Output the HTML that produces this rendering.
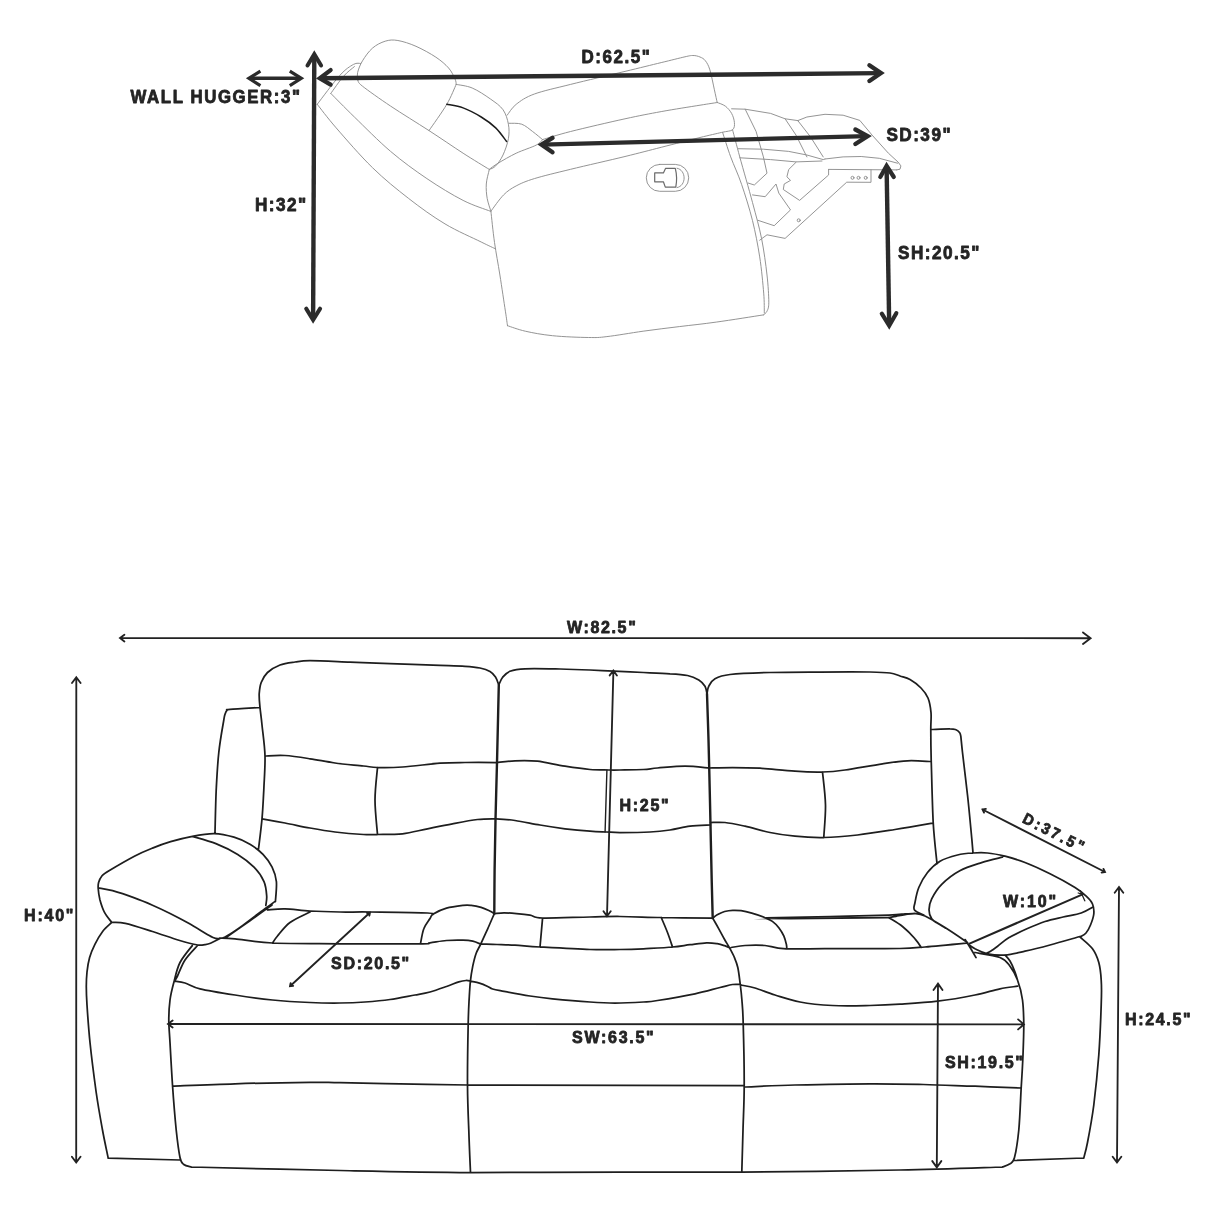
<!DOCTYPE html>
<html><head><meta charset="utf-8"><title>Sofa dimensions</title>
<style>
html,body{margin:0;padding:0;background:#fff}
body{width:1214px;height:1214px;overflow:hidden}
svg{display:block}
text{font-family:"Liberation Sans",sans-serif;font-weight:bold;fill:#242424;stroke:#242424;stroke-width:0.8px;stroke-linejoin:round}
svg{will-change:transform}
</style></head><body>
<svg width="1214" height="1214" viewBox="0 0 1214 1214">
<rect width="1214" height="1214" fill="#fff"/>
<g fill="none" stroke="#8e8e8e" stroke-width="0.95" stroke-linecap="round" stroke-linejoin="round">
<path d="M358.0 80.7C357.9 79.3 356.9 75.9 357.6 72.6C358.4 69.3 360.0 64.9 362.5 60.8C365.0 56.7 368.7 51.4 372.5 48.1C376.3 44.8 381.0 42.5 385.2 41.2C389.4 39.9 392.8 39.6 397.9 40.5C403.0 41.4 409.7 43.5 416.0 46.3C422.3 49.1 430.5 53.6 435.9 57.2C441.3 60.8 445.4 64.4 448.6 68.0C451.8 71.6 453.7 76.2 455.0 78.9C456.3 81.6 456.0 83.5 456.2 84.4M456.2 84.4C454.6 87.7 451.3 96.6 446.8 104.3C442.3 112.0 432.0 126.2 429.0 130.6M358.0 80.7C358.8 81.6 357.1 82.0 362.5 86.2C367.9 90.4 379.5 98.7 390.6 106.1C401.7 113.5 416.9 122.8 429.0 130.6C441.1 138.4 453.0 146.7 463.1 153.2C473.2 159.7 485.0 166.8 489.4 169.5M317.2 104.3C321.0 99.5 333.8 81.9 339.9 75.3C345.9 68.7 350.0 66.4 353.5 64.4C357.0 62.4 359.5 63.6 360.7 63.5M330.8 93.4C332.9 90.6 339.6 80.8 343.5 76.3C347.4 71.8 352.6 68.2 354.4 66.6M317.2 104.3C320.4 108.2 327.0 117.3 336.2 127.9C345.4 138.5 360.4 155.9 372.5 167.7C384.6 179.5 396.6 189.1 408.7 198.5C420.8 207.9 432.9 216.7 445.0 223.9C457.1 231.2 472.8 237.8 481.2 242.0C489.6 246.2 493.3 247.8 495.7 248.9M330.8 93.4C334.7 97.3 344.4 107.3 354.4 117.0C364.4 126.7 378.5 141.1 390.6 151.4C402.7 161.7 414.8 170.4 426.9 178.6C439.0 186.8 452.5 195.0 463.1 200.4C473.7 205.8 485.8 209.4 490.3 211.2M456.2 84.4C458.9 85.0 466.5 85.6 472.2 88.0C477.9 90.4 485.2 95.3 490.3 98.9C495.4 102.5 500.0 105.5 503.0 109.7C506.0 113.9 507.5 119.4 508.4 124.2C509.3 129.0 509.3 133.6 508.4 138.7C507.5 143.8 505.1 150.5 503.0 155.0C500.9 159.5 498.0 163.5 495.7 165.9C493.4 168.3 490.4 168.9 489.4 169.5M507.2 115.2C508.7 113.4 511.7 107.8 516.2 104.3C520.7 100.8 525.3 97.3 534.4 94.0C543.5 90.7 555.5 88.2 570.6 84.4C585.7 80.6 609.9 75.0 625.0 71.4C640.1 67.8 651.2 65.0 661.2 62.6C671.2 60.2 679.7 58.0 685.0 56.8C690.3 55.6 690.5 55.5 693.0 55.5C695.5 55.5 697.9 56.1 700.0 57.0C702.1 57.9 703.8 58.6 705.4 60.8C707.0 62.9 708.4 65.1 709.9 69.9C711.4 74.7 713.2 84.4 714.4 89.8C715.6 95.2 716.7 100.4 717.2 102.5M509.0 123.3C511.1 123.5 517.8 122.8 521.7 124.2C525.6 125.6 529.1 128.9 532.6 131.5C536.1 134.1 540.9 138.2 542.5 139.6M542.5 139.6C547.2 138.2 556.9 135.0 570.6 131.5C584.4 128.0 609.9 122.1 625.0 118.8C640.1 115.5 648.7 113.9 661.2 111.6C673.7 109.3 690.7 106.7 700.0 105.2C709.3 103.7 714.3 103.0 717.2 102.5M489.1 169.5C490.6 168.4 493.6 165.9 498.1 163.2C502.6 160.5 509.9 156.2 516.2 153.2C522.6 150.2 531.8 147.4 536.2 145.1C540.6 142.8 541.5 140.5 542.5 139.6M717.2 102.5C718.6 103.1 722.9 104.3 725.3 106.1C727.7 107.9 730.1 110.7 731.6 113.4C733.1 116.1 734.2 119.7 734.4 122.4C734.6 125.1 734.7 128.0 732.6 129.7C730.5 131.4 727.1 131.1 721.7 132.4C716.3 133.7 710.1 135.0 700.0 137.5C689.9 140.0 673.7 144.1 661.2 147.3C648.7 150.5 640.1 152.8 625.0 156.5C609.9 160.2 585.7 165.6 570.6 169.3C555.5 173.0 543.5 175.8 534.4 178.6C525.3 181.4 521.3 183.2 516.2 185.9C511.1 188.6 507.8 190.7 503.6 194.9C499.4 199.1 493.0 208.5 490.9 211.2M489.1 170.4C488.6 172.7 486.6 179.3 486.3 184.0C486.0 188.7 486.4 194.0 487.2 198.5C488.0 203.0 490.3 209.1 490.9 211.2M490.9 211.2C491.5 216.4 493.0 231.8 494.5 242.4C496.0 253.0 498.1 263.5 499.9 275.0C501.7 286.5 504.1 302.8 505.4 311.2C506.7 319.6 507.1 323.3 507.5 325.7M507.5 325.7C510.5 326.6 517.8 329.5 525.3 331.2C532.8 332.9 541.9 334.6 552.5 335.7C563.1 336.8 579.6 337.4 588.7 337.5C597.8 337.6 597.8 337.7 606.9 336.6C616.0 335.6 631.0 332.9 643.1 331.2C655.2 329.5 667.1 328.1 679.3 326.6C691.5 325.1 702.2 324.1 716.2 322.1C730.2 320.2 755.5 316.1 763.4 314.9M732.6 130.0C733.8 134.5 736.5 144.9 739.8 157.0C743.1 169.1 748.9 188.9 752.5 202.5C756.1 216.1 759.2 226.6 761.6 238.7C764.0 250.8 765.8 264.4 767.0 275.0C768.2 285.6 768.8 296.2 768.8 302.2C768.8 308.2 767.9 309.1 767.0 311.2C766.1 313.3 764.0 314.3 763.4 314.9M722.6 132.4C724.0 136.5 727.5 148.2 730.7 156.9C733.9 165.6 738.0 173.8 741.6 184.4C745.2 195.0 749.5 208.5 752.5 220.6C755.5 232.7 757.8 244.8 759.7 256.9C761.6 269.0 762.9 283.8 763.7 293.1C764.5 302.5 764.2 309.7 764.3 313.0"/>
<path d="M731.6 108.8L745.2 109.2L770.6 113.4L785.1 118.8L797.8 120.6M797.8 120.6L806.9 117.0L825.0 114.3L843.1 115.2L859.8 120.4L872.1 135.1L888.4 153.2L898.0 162.0L900.9 165.9L900.0 169.2L896.7 169.9M825.0 159.0L843.1 156.9L861.2 156.5L879.3 158.3L897.5 163.2M828.6 169.4L896.7 169.9M871.0 169.9L871.0 182.3L846.7 182.2L785.1 238.4L767.0 234.8L759.7 240.2M745.2 109.2L756.1 131.5L763.4 156.9L767.0 173.2L754.3 185.0L748.0 183.0M785.1 118.8L796.0 135.1L806.9 156.9M797.8 120.6L810.5 136.9L823.2 156.9M738.0 148.7L763.4 149.2L788.7 151.4L806.9 155.0L823.2 159.6L825.0 159.0M739.8 157.8L770.6 159.6L796.0 161.9L822.0 161.0M796.0 162.3L788.7 169.5L786.9 176.8L790.5 180.4L784.2 184.0L783.3 189.5L799.6 200.4L828.6 175.0L828.6 169.4M752.5 194.9L765.2 196.7L776.0 184.0L778.8 193.1L790.5 209.9L774.2 225.7L757.9 220.3"/>
<circle cx="852.5" cy="177.8" r="1.5"/><circle cx="858.5" cy="177.8" r="1.5"/><circle cx="865.7" cy="177.8" r="1.5"/><circle cx="798.7" cy="220.3" r="1.5"/>
<rect x="646.3" y="164.4" width="42.4" height="26.9" rx="13.4" ry="13.4"/>
<path d="M654.7 172.9H663.4L665.5 168.4H675.3Q677.6 177.5 675.8 187.1H665.3L663.4 181.8H654.7Z" stroke="#6a6a6a" stroke-width="1.2"/>
<path d="M677 168.2C686.6 170 686.6 186 677 187.6"/>
</g>
<path d="M446.8 104.3C449.5 104.9 457.4 105.8 463.1 107.9C468.8 110.0 475.8 113.7 481.2 117.0C486.6 120.3 491.5 123.8 495.7 127.9C499.9 132.0 504.8 139.2 506.6 141.5" fill="none" stroke="#1c1c1c" stroke-width="1.5" stroke-linecap="round"/>
<g fill="none" stroke="#2b2b2b">
<path d="M314.3 55.2L313.1 319.0" stroke-width="4.40" stroke-linecap="butt"/><path d="M307.5 65.5L314.3 54.2L321.1 65.5" stroke-width="4.00" stroke-linecap="round" stroke-linejoin="miter" stroke-miterlimit="10"/><path d="M306.2 308.6L313.1 320.0L320.1 308.6" stroke-width="4.00" stroke-linecap="round" stroke-linejoin="miter" stroke-miterlimit="10"/><path d="M249.9 78.3L300.3 78.3" stroke-width="3.40" stroke-linecap="butt"/><path d="M260.4 71.2L248.9 78.3L260.4 85.6" stroke-width="3.20" stroke-linecap="butt" stroke-linejoin="miter" stroke-miterlimit="10"/><path d="M289.8 71.2L301.3 78.3L289.8 85.6" stroke-width="3.20" stroke-linecap="butt" stroke-linejoin="miter" stroke-miterlimit="10"/><path d="M320.8 78.3L880.0 73.1" stroke-width="4.45" stroke-linecap="butt"/><path d="M330.6 70.1L319.8 78.3L330.6 84.6" stroke-width="4.30" stroke-linecap="round" stroke-linejoin="miter" stroke-miterlimit="10"/><path d="M869.4 65.3L881.0 73.1L869.4 81.0" stroke-width="4.30" stroke-linecap="round" stroke-linejoin="miter" stroke-miterlimit="10"/><path d="M542.5 144.6L866.6 136.1" stroke-width="4.30" stroke-linecap="butt"/><path d="M552.5 137.8L541.5 144.6L552.5 152.3" stroke-width="4.40" stroke-linecap="round" stroke-linejoin="miter" stroke-miterlimit="10"/><path d="M855.4 129.5L867.6 136.1L855.4 144.0" stroke-width="4.40" stroke-linecap="round" stroke-linejoin="miter" stroke-miterlimit="10"/><path d="M886.6 166.9L889.2 324.7" stroke-width="4.40" stroke-linecap="butt"/><path d="M880.3 177.0L886.6 165.9L893.8 177.0" stroke-width="4.20" stroke-linecap="round" stroke-linejoin="miter" stroke-miterlimit="10"/><path d="M881.8 313.7L889.2 325.7L896.3 313.2" stroke-width="4.20" stroke-linecap="round" stroke-linejoin="miter" stroke-miterlimit="10"/>
</g>
<g fill="none" stroke="#1e1e1e" stroke-width="1.75" stroke-linecap="round" stroke-linejoin="round">
<path d="M258.4 850.0C259.0 844.8 261.1 828.8 262.0 818.8C262.9 808.8 263.2 800.5 263.8 790.0C264.2 779.5 265.3 766.8 265.0 756.0C264.7 745.2 262.8 733.1 262.0 725.0C261.2 716.9 260.5 712.7 260.0 707.5C259.5 702.3 259.0 697.9 259.2 693.8C259.5 689.6 259.9 686.0 261.2 682.5C262.6 679.0 264.4 675.4 267.5 672.5C270.6 669.6 275.4 666.8 280.0 665.0C284.6 663.2 290.0 662.7 295.0 662.0C300.0 661.3 300.8 660.7 310.0 660.7C319.2 660.7 336.7 661.6 350.0 662.1C363.3 662.6 375.0 663.1 390.0 663.6C405.0 664.1 427.5 665.0 440.0 665.4C452.5 665.8 458.3 665.9 465.0 666.3C471.7 666.7 475.8 667.1 480.0 668.0C484.2 668.9 487.4 670.0 490.0 671.5C492.6 673.0 494.0 674.8 495.5 677.0C497.0 679.2 498.2 683.7 498.8 685.0M265.0 756.0C268.3 755.9 277.5 755.0 285.0 755.5C292.5 756.0 301.7 757.5 310.0 758.8C318.3 760.0 326.1 761.8 335.0 763.0C343.9 764.2 356.4 765.2 363.5 766.0C370.6 766.8 371.0 767.3 377.5 767.5C384.0 767.7 392.1 767.7 402.5 767.0C412.9 766.3 429.6 764.0 440.0 763.2C450.4 762.5 455.5 762.6 465.0 762.5C474.5 762.4 491.7 762.5 497.0 762.5M262.0 818.8C265.8 819.5 277.0 821.5 285.0 823.0C293.0 824.5 301.7 826.5 310.0 828.0C318.3 829.5 326.1 830.9 335.0 832.0C343.9 833.1 356.4 834.1 363.5 834.5C370.6 834.9 371.0 834.6 377.5 834.5C384.0 834.4 394.2 834.7 402.5 833.8C410.8 832.8 419.2 830.4 427.5 828.8C435.8 827.1 444.2 825.3 452.5 823.8C460.8 822.2 470.3 820.3 477.5 819.5C484.7 818.7 492.5 818.9 495.5 818.8M377.5 767.5C377.1 772.9 375.0 788.8 375.0 800.0C375.0 811.2 377.1 828.8 377.5 834.5M498.8 685.0C499.4 683.8 500.6 679.8 502.5 677.5C504.4 675.2 506.2 672.7 510.0 671.2C513.8 669.8 516.7 669.1 525.0 668.8C533.3 668.4 549.2 668.8 560.0 669.0C570.8 669.2 581.0 669.6 590.0 670.0C599.0 670.4 604.9 670.8 613.8 671.2C622.7 671.6 634.1 672.1 643.5 672.5C652.9 672.9 662.7 673.2 670.0 673.8C677.3 674.2 682.7 674.5 687.5 675.5C692.3 676.5 695.8 678.2 698.8 680.0C701.7 681.8 703.6 684.0 705.0 686.2C706.4 688.5 706.7 692.5 707.0 693.8M497.0 762.5C500.0 762.2 508.2 761.0 515.0 760.8C521.8 760.5 529.2 760.3 537.5 761.2C545.8 762.2 556.2 764.9 565.0 766.2C573.8 767.6 582.7 768.9 590.0 769.5C597.3 770.1 603.8 769.9 608.8 770.0C613.8 770.1 614.2 770.1 620.0 770.0C625.8 769.9 637.2 769.8 643.5 769.5C649.8 769.2 650.6 768.5 657.5 768.0C664.4 767.5 676.4 766.2 685.0 766.2C693.6 766.2 705.2 767.7 709.2 768.0M495.5 818.8C498.8 819.0 507.6 819.5 515.0 820.5C522.4 821.5 531.7 823.6 540.0 825.0C548.3 826.4 556.7 827.7 565.0 828.8C573.3 829.8 583.1 830.7 590.0 831.2C596.9 831.8 601.2 831.8 606.2 832.0C611.2 832.2 612.7 832.5 620.0 832.5C627.3 832.5 641.7 832.4 650.0 832.0C658.3 831.6 663.3 831.0 670.0 830.0C676.7 829.0 683.2 827.1 690.0 826.2C696.8 825.4 707.1 825.2 710.5 825.0M707.0 693.8C707.3 692.5 707.4 688.8 708.8 686.2C710.1 683.8 711.5 680.7 715.0 678.8C718.5 676.8 720.8 675.5 730.0 674.5C739.2 673.5 755.0 672.9 770.0 672.5C785.0 672.1 803.3 672.1 820.0 672.0C836.7 671.9 858.3 671.8 870.0 672.0C881.7 672.2 885.0 672.3 890.0 673.0C895.0 673.7 896.7 674.9 900.0 676.0C903.3 677.1 906.5 677.5 910.0 679.5C913.5 681.5 918.0 684.9 921.0 688.0C924.0 691.1 926.3 693.9 928.0 698.0C929.7 702.1 930.5 707.2 931.0 712.5C931.5 717.8 930.7 722.1 930.8 730.0C930.8 737.9 930.8 744.6 931.2 760.0C931.7 775.4 932.3 805.2 933.2 822.5C934.2 839.8 936.4 856.9 937.0 863.8M709.2 768.0C713.1 767.9 724.0 767.5 732.5 767.5C741.0 767.5 749.6 767.6 760.0 768.2C770.4 768.9 784.6 770.6 795.0 771.2C805.4 771.9 814.2 772.2 822.5 772.0C830.8 771.8 835.0 771.4 845.0 770.0C855.0 768.6 872.1 765.3 882.5 763.8C892.9 762.2 899.4 761.1 907.5 760.8C915.6 760.4 927.3 761.4 931.2 761.5M710.5 822.5C712.9 822.5 719.2 821.9 725.0 822.5C730.8 823.1 737.5 824.6 745.0 826.2C752.5 827.9 761.7 830.8 770.0 832.5C778.3 834.2 786.0 835.4 795.0 836.2C804.0 837.1 813.3 837.7 823.8 837.5C834.2 837.3 845.6 836.3 857.5 835.0C869.4 833.7 882.4 831.5 895.0 829.5C907.6 827.5 926.9 824.1 933.2 823.0M822.5 772.0C823.0 777.5 825.3 794.1 825.5 805.0C825.7 815.9 824.0 832.1 823.8 837.5M215.0 832.5C215.2 825.4 215.6 803.3 216.2 790.0C216.9 776.7 217.5 764.2 218.8 752.5C220.0 740.8 222.7 726.5 223.8 720.0C224.8 713.5 224.8 715.1 225.3 713.5C225.8 711.9 226.0 711.3 226.8 710.6C227.6 709.9 224.5 709.8 230.0 709.3C235.5 708.8 255.0 707.8 260.0 707.5M931.2 729.5C934.4 729.4 945.9 728.7 950.0 728.8C954.1 728.8 954.4 729.2 956.0 729.8C957.6 730.4 958.7 731.4 959.5 732.5C960.3 733.6 960.2 732.9 960.8 736.2C961.2 739.6 961.4 742.7 962.5 752.5C963.6 762.3 966.0 781.7 967.5 795.0C969.0 808.3 970.3 822.8 971.2 832.5C972.2 842.2 972.7 849.6 973.0 853.0M111.7 922.4C110.5 920.7 106.5 916.2 104.5 912.4C102.5 908.6 101.0 903.7 99.9 899.7C98.9 895.7 98.4 891.4 98.2 888.5C98.0 885.6 98.0 884.5 98.6 882.5C99.2 880.5 100.0 878.2 101.7 876.2C103.4 874.2 103.5 874.0 109.0 870.7C114.5 867.4 127.2 860.0 134.4 856.2C141.7 852.4 146.5 850.5 152.5 848.1C158.5 845.7 163.9 843.7 170.6 841.7C177.2 839.7 185.2 837.6 192.4 836.3C199.7 834.9 207.2 833.5 214.1 833.6C221.0 833.8 227.9 835.4 234.0 837.2C240.1 839.0 245.6 841.6 250.4 844.5C255.2 847.4 259.4 850.6 263.0 854.4C266.6 858.2 269.9 862.6 272.1 867.1C274.3 871.6 275.8 875.9 276.4 881.6C276.9 887.4 275.6 898.3 275.4 901.6M192.4 836.3C196.3 837.5 208.4 840.6 215.9 843.6C223.4 846.6 231.3 850.5 237.7 854.4C244.0 858.3 249.6 862.6 254.0 867.1C258.4 871.6 261.9 876.8 264.0 881.6C266.1 886.4 266.4 892.1 266.7 896.1C267.0 900.1 265.9 903.9 265.8 905.5M98.4 887.8C100.8 888.3 106.6 889.0 112.6 890.7C118.6 892.4 127.8 895.5 134.4 897.9C141.1 900.3 146.5 902.6 152.5 905.2C158.5 907.8 164.6 910.7 170.6 913.7C176.6 916.7 182.6 919.9 188.7 923.3C194.8 926.7 202.8 931.8 206.9 934.2C211.0 936.6 211.2 936.8 213.0 937.5C214.8 938.2 216.2 938.6 217.7 938.7C219.2 938.8 220.5 938.5 222.0 938.0C223.5 937.5 223.3 938.1 226.8 936.0C230.3 933.9 237.4 929.2 243.1 925.1C248.8 921.0 255.8 915.5 261.2 911.5C266.6 907.5 272.9 903.1 275.2 901.4M111.7 922.4C114.0 922.5 118.5 921.8 125.3 923.3C132.1 924.8 143.4 928.6 152.5 931.5C161.6 934.4 172.1 938.2 179.7 940.5C187.2 942.8 193.6 944.3 197.8 945.0C202.0 945.7 202.9 944.9 205.0 944.6C207.1 944.3 208.1 944.2 210.5 943.2C212.9 942.2 218.0 939.5 219.5 938.7M272.0 905.0C268.3 907.6 257.7 915.4 250.0 920.8C242.3 926.2 230.0 934.8 226.0 937.6M111.7 922.4C110.2 923.9 105.6 927.6 102.8 931.2C100.0 934.9 97.1 939.9 94.9 944.3C92.7 948.7 90.9 952.9 89.6 957.5C88.3 962.1 87.5 967.2 87.0 972.0C86.5 976.8 86.3 981.0 86.3 986.5C86.3 992.0 86.4 995.7 87.0 1005.0C87.6 1014.3 88.5 1027.9 90.0 1042.5C91.5 1057.1 94.2 1077.9 96.2 1092.5C98.3 1107.1 100.5 1119.0 102.5 1130.0C104.5 1141.0 107.3 1153.5 108.2 1158.2M108.2 1158.2L180.0 1160.0M192.3 945.6C190.2 948.4 183.1 956.4 180.0 962.5C176.9 968.6 175.4 976.2 173.8 982.5C172.1 988.8 170.8 993.8 170.0 1000.0C169.2 1006.2 168.8 1012.9 168.8 1020.0C168.8 1027.1 169.4 1031.7 170.0 1042.5C170.6 1053.3 171.5 1070.4 172.5 1085.0C173.5 1099.6 175.0 1117.9 176.2 1130.0C177.5 1142.1 178.8 1151.8 180.0 1157.5C181.2 1163.2 181.9 1162.9 183.8 1164.5C185.6 1166.1 190.0 1166.6 191.2 1167.0M191.2 1167.0C216.0 1167.6 293.5 1169.6 340.0 1170.5C386.5 1171.4 423.8 1172.2 470.5 1172.5C517.2 1172.8 574.8 1172.1 620.0 1172.0C665.2 1171.9 695.1 1172.3 741.8 1172.0C788.4 1171.7 856.5 1170.8 900.0 1170.0C943.5 1169.2 985.4 1167.5 1002.5 1167.0M197.5 945.5C195.4 947.9 188.3 954.9 185.0 960.0C181.7 965.1 179.2 972.5 177.5 976.0C175.8 979.5 175.0 980.2 174.5 981.0M174.5 981.2C176.2 981.5 180.8 981.8 185.0 983.0C189.2 984.2 191.7 986.8 200.0 988.8C208.3 990.8 222.9 993.1 235.0 995.0C247.1 996.9 260.0 998.8 272.5 1000.0C285.0 1001.2 298.8 1002.0 310.0 1002.5C321.2 1003.0 330.8 1003.1 340.0 1003.0C349.2 1002.9 356.7 1002.6 365.0 1002.0C373.3 1001.4 381.7 1000.7 390.0 999.5C398.3 998.3 408.3 996.2 415.0 995.0C421.7 993.8 424.8 993.4 430.0 992.0C435.2 990.6 441.7 988.2 446.5 986.5C451.3 984.8 455.6 982.8 458.8 981.8C462.1 980.8 464.1 980.6 466.0 980.5C467.9 980.4 469.7 981.0 470.4 981.1M220.0 938.0C222.5 938.1 226.2 937.9 235.0 938.8C243.8 939.6 255.0 942.2 272.5 943.0C290.0 943.8 315.4 943.6 340.0 943.8C364.6 943.9 405.0 943.9 420.0 943.8C435.0 943.6 425.6 943.3 430.0 942.8C434.4 942.3 441.0 940.9 446.5 940.5C452.0 940.1 458.6 940.1 463.0 940.2C467.4 940.3 469.9 940.6 472.8 941.2C475.8 941.9 479.4 943.6 480.7 944.1M267.5 910.0C270.4 909.8 277.9 908.6 285.0 908.8C292.1 908.9 300.8 910.5 310.0 911.0C319.2 911.5 330.0 911.8 340.0 912.0C350.0 912.2 355.4 911.8 370.0 912.0C384.6 912.2 417.2 912.5 427.5 913.0C437.8 913.5 431.2 914.7 432.0 915.0M310.0 912.0C306.7 913.8 295.4 918.5 290.0 922.5C284.6 926.5 280.4 932.6 277.5 936.0C274.6 939.4 273.3 941.8 272.5 943.0M420.5 943.8C421.0 941.2 422.2 933.0 423.8 928.8C425.3 924.5 428.4 921.0 430.0 918.5C431.6 916.0 430.6 915.7 433.3 914.0C436.1 912.3 441.6 909.6 446.5 908.2C451.4 906.8 458.9 905.9 463.0 905.4C467.1 904.9 468.2 905.1 471.2 905.4C474.2 905.7 478.1 906.5 481.1 907.4C484.1 908.3 487.1 909.7 489.3 910.7C491.5 911.7 493.5 913.1 494.3 913.6M494.3 913.6C493.2 916.1 490.0 923.7 487.7 928.8C485.4 933.9 482.6 940.0 480.7 944.1C478.8 948.2 477.4 949.9 476.1 953.5C474.8 957.1 473.8 961.3 472.8 965.9C471.9 970.5 471.0 975.4 470.4 981.1C469.8 986.8 469.5 992.9 469.1 1000.0C468.7 1007.1 468.5 1009.6 468.2 1023.8C467.9 1037.9 467.4 1067.3 467.5 1085.0C467.6 1102.7 468.2 1115.4 468.8 1130.0C469.2 1144.6 470.2 1165.4 470.5 1172.5M494.3 913.6C495.9 913.5 500.4 912.8 504.1 912.8C507.8 912.8 512.2 913.2 516.5 913.6C520.8 914.0 525.7 914.5 530.0 915.2C534.3 915.9 532.5 917.7 542.5 918.0C552.5 918.3 577.1 917.2 590.0 917.0C602.9 916.8 608.1 916.4 620.0 916.5C631.9 916.6 645.8 917.2 661.2 917.5C676.7 917.8 704.0 917.9 712.5 918.0M542.5 918.8L540.0 947.0M480.7 944.1C483.4 944.2 491.3 944.3 497.0 944.5C502.7 944.7 507.8 944.8 515.0 945.2C522.2 945.6 527.5 946.3 540.0 947.0C552.5 947.7 576.7 949.1 590.0 949.5C603.3 949.9 611.1 949.6 620.0 949.5C628.9 949.4 634.8 949.2 643.5 948.8C652.2 948.3 664.8 947.7 672.5 947.0C680.2 946.3 684.3 945.4 690.0 944.7C695.7 944.0 702.0 943.0 706.5 942.8C711.0 942.6 714.2 943.2 717.2 943.7C720.2 944.2 722.5 945.0 724.6 945.7C726.7 946.4 728.9 947.6 729.8 948.0M661.2 917.5C662.3 920.0 665.6 927.6 667.5 932.5C669.4 937.4 671.7 944.6 672.5 947.0M470.4 981.1C471.9 981.5 476.5 982.3 479.4 983.2C482.3 984.1 485.5 985.5 487.7 986.5C489.9 987.5 489.9 988.2 492.6 989.0C495.3 989.8 497.9 990.2 504.1 991.4C510.3 992.6 521.9 994.8 530.0 996.0C538.1 997.2 542.5 997.8 552.5 998.8C562.5 999.8 579.6 1001.3 590.0 1002.0C600.4 1002.7 606.1 1003.0 615.0 1003.0C623.9 1003.0 636.4 1002.4 643.5 1002.0C650.6 1001.6 648.9 1001.9 657.5 1000.5C666.1 999.1 684.6 995.9 695.0 993.8C705.4 991.6 713.8 989.0 720.0 987.5C726.2 986.0 729.0 985.0 732.5 984.5C736.0 984.0 739.4 984.5 740.8 984.5M712.7 918.1C713.7 919.9 716.8 925.2 718.8 928.8C720.8 932.4 722.8 936.3 724.6 939.5C726.4 942.7 727.9 944.8 729.5 947.8C731.1 950.8 733.1 954.4 734.5 957.7C735.9 961.0 736.8 963.1 737.8 967.5C738.8 971.9 739.5 978.6 740.2 984.0C740.9 989.4 741.4 993.4 741.9 1000.0C742.4 1006.6 742.9 1009.6 743.2 1023.8C743.6 1037.9 744.3 1067.3 744.2 1085.0C744.2 1102.7 743.4 1115.5 743.0 1130.0C742.6 1144.5 742.0 1165.0 741.8 1172.0M712.7 918.1C713.5 917.5 715.2 915.9 717.2 914.8C719.2 913.7 722.0 912.2 724.6 911.5C727.2 910.8 730.0 910.4 732.8 910.3C735.5 910.2 737.9 910.2 741.1 910.7C744.3 911.2 748.0 912.1 751.8 913.2C755.6 914.3 760.7 915.9 764.1 917.3C767.5 918.7 769.9 919.6 772.4 921.4C774.9 923.2 777.1 925.5 779.0 928.0C780.9 930.5 782.7 933.5 783.9 936.2C785.1 939.0 785.9 942.4 786.4 944.5C786.9 946.6 786.7 948.1 786.8 948.8M731.2 947.5C733.5 947.2 739.4 945.8 745.0 945.5C750.6 945.2 758.1 945.0 765.0 945.5C771.9 946.0 772.1 948.2 786.2 948.8C800.4 949.2 831.0 948.5 850.0 948.5C869.0 948.5 887.5 948.8 900.0 948.5C912.5 948.2 913.8 947.9 925.0 947.0C936.2 946.1 960.4 943.7 967.5 943.0M888.7 917.6C889.9 917.4 893.3 916.8 896.0 916.3C898.7 915.8 901.8 915.0 905.0 914.6C908.2 914.2 911.7 913.4 915.0 913.6C918.3 913.8 920.0 913.7 925.0 916.0C930.0 918.3 937.9 923.1 945.0 927.5C952.1 931.9 963.8 940.0 967.5 942.5M766.2 917.9C776.8 917.7 809.6 917.0 830.0 916.5C850.4 916.0 876.2 915.5 888.7 915.1C901.2 914.7 900.6 914.2 905.0 913.9C909.4 913.6 913.3 913.5 915.0 913.4M888.7 917.6C891.0 919.1 898.1 923.0 902.5 926.5C906.9 930.0 911.9 935.2 915.0 938.8C918.1 942.2 920.2 946.0 921.2 947.5M740.8 985.0C743.1 985.5 749.3 986.3 755.0 988.0C760.7 989.7 767.5 992.7 775.0 995.0C782.5 997.3 790.4 1000.2 800.0 1002.0C809.6 1003.8 820.8 1004.9 832.5 1005.5C844.2 1006.1 858.8 1005.7 870.0 1005.5C881.2 1005.3 888.8 1005.0 900.0 1004.2C911.2 1003.5 925.0 1002.8 937.5 1001.2C950.0 999.7 964.6 997.1 975.0 995.0C985.4 992.9 992.9 990.2 1000.0 988.8C1007.1 987.3 1014.6 986.7 1017.5 986.2M975.0 952.5C979.2 953.3 994.2 955.2 1000.0 957.5C1005.8 959.8 1007.1 962.5 1010.0 966.2C1012.9 970.0 1015.4 974.4 1017.5 980.0C1019.6 985.6 1021.5 992.5 1022.5 1000.0C1023.5 1007.5 1023.7 1015.8 1023.8 1025.0C1023.8 1034.2 1023.4 1044.6 1023.0 1055.0C1022.6 1065.4 1022.0 1075.0 1021.2 1087.5C1020.5 1100.0 1019.9 1118.3 1018.8 1130.0C1017.6 1141.7 1016.0 1151.9 1014.5 1157.5C1013.0 1163.1 1012.0 1162.2 1010.0 1163.8C1008.0 1165.3 1003.8 1166.5 1002.5 1167.0M965.3 939.6C966.2 941.2 969.2 946.0 971.0 949.0C972.8 952.0 975.2 956.2 976.0 957.6M172.5 1086.2C182.9 1085.8 212.1 1084.4 235.0 1083.8C257.9 1083.1 292.5 1082.5 310.0 1082.3C327.5 1082.1 325.0 1082.5 340.0 1082.7C355.0 1083.0 378.8 1083.4 400.0 1083.8C421.2 1084.2 456.2 1084.8 467.5 1085.0M467.5 1085.0L744.2 1085.5M744.2 1087.0C752.7 1086.7 774.0 1085.5 795.0 1085.0C816.0 1084.5 848.6 1083.8 870.0 1083.8C891.4 1083.7 906.0 1084.1 923.5 1084.5C941.0 1084.9 958.7 1085.7 975.0 1086.2C991.3 1086.8 1013.5 1087.7 1021.2 1088.0M923.8 915.0C922.2 914.2 916.0 912.1 914.5 910.0C913.0 907.9 914.3 906.2 915.0 902.5C915.7 898.8 916.7 892.5 918.8 887.5C920.8 882.5 924.0 876.9 927.5 872.5C931.0 868.1 935.0 864.2 940.0 861.2C945.0 858.3 952.0 856.4 957.5 855.0C963.0 853.6 968.0 853.3 973.0 853.0C978.0 852.7 982.2 852.5 987.5 853.0C992.8 853.5 998.8 854.7 1005.0 856.2C1011.2 857.8 1017.5 859.6 1025.0 862.5C1032.5 865.4 1041.7 869.6 1050.0 873.8C1058.3 877.9 1069.0 883.8 1075.0 887.5C1081.0 891.2 1083.3 893.5 1086.2 896.2C1089.2 899.0 1091.2 901.0 1092.5 904.0C1093.8 907.0 1094.1 910.5 1093.8 914.0C1093.4 917.5 1091.8 921.8 1090.5 925.0C1089.2 928.2 1087.8 931.0 1086.0 933.0C1084.2 935.0 1081.0 936.3 1080.0 937.0M1002.4 857.2C998.9 858.1 988.7 860.3 981.6 862.6C974.5 864.9 966.4 867.2 959.8 870.8C953.1 874.4 946.4 879.7 941.7 884.4C937.0 889.1 933.8 894.7 931.7 898.9C929.6 903.1 929.0 906.4 929.0 909.7C929.0 913.0 930.2 916.5 931.7 918.8C933.2 921.1 935.7 922.0 938.0 923.5C940.3 925.0 944.1 927.2 945.3 928.0M1093.0 907.0C1091.0 908.0 1086.2 911.3 1081.2 913.0C1076.2 914.7 1069.1 915.6 1063.1 917.0C1057.1 918.4 1051.0 919.5 1045.0 921.5C1039.0 923.5 1033.0 926.1 1026.9 928.8C1020.9 931.5 1013.5 934.9 1008.7 937.8C1003.9 940.7 1000.9 943.8 997.9 946.0C994.9 948.2 992.5 950.0 990.6 951.2C988.7 952.4 987.2 952.9 986.5 953.3M1080.0 936.5C1075.0 937.9 1059.2 942.5 1050.0 945.0C1040.8 947.5 1032.5 949.6 1025.0 951.2C1017.5 952.9 1011.2 954.6 1005.0 955.0C998.8 955.4 992.5 954.8 987.5 953.8C982.5 952.7 978.3 950.4 975.0 948.8C971.7 947.1 968.8 944.6 967.5 943.8M1080.0 937.0C1082.1 939.0 1089.4 944.5 1092.5 948.8C1095.6 953.0 1097.3 957.3 1098.8 962.5C1100.2 967.7 1100.8 972.9 1101.2 980.0C1101.7 987.1 1101.7 992.5 1101.2 1005.0C1100.8 1017.5 1100.0 1038.3 1098.8 1055.0C1097.5 1071.7 1095.6 1090.4 1093.8 1105.0C1091.9 1119.6 1089.2 1133.7 1087.5 1142.5C1085.8 1151.3 1084.4 1155.4 1083.8 1158.0M1083.8 1158.0L1015.0 1160.5M1005.0 955.0C1005.8 956.0 1008.3 958.2 1010.0 961.0C1011.7 963.8 1013.8 968.8 1015.0 972.0C1016.2 975.2 1017.1 978.7 1017.5 980.0"/>
<path d="M498.8 685.0C498.6 690.8 498.3 707.1 498.0 720.0C497.7 732.9 497.4 745.8 497.0 762.5C496.6 779.2 495.9 802.1 495.5 820.0C495.1 837.9 494.8 854.4 494.6 870.0C494.4 885.6 494.4 906.3 494.3 913.6M707.0 693.8C707.2 699.8 707.8 717.7 708.2 730.0C708.6 742.3 708.8 751.7 709.2 767.5C709.6 783.3 710.1 806.2 710.5 825.0C710.9 843.8 711.3 864.5 711.7 880.0C712.1 895.5 712.5 911.8 712.7 918.1" stroke-width="2.4"/>
<path d="M753.5 919.2L790 917.5L888.7 916.7L888.7 918.5L790 919.4Z" fill="#1e1e1e" stroke="none"/>
<path d="M606.9 770.2L605.1 831.9" stroke-width="1.4"/>
</g>
<g fill="none" stroke="#222" stroke-width="1.85" stroke-linecap="round" stroke-linejoin="miter">
<path d="M120.0 638.1L1090.6 638.2M124.4 641.4L120.0 638.1L124.4 634.8M1083.0 644.0L1090.6 638.2L1083.0 632.4M76.3 677.2L76.2 1162.5M72.0 683.0L76.3 677.2L80.6 683.0M71.9 1156.7L76.2 1162.5L80.5 1156.7M613.4 670.5L607.0 916.2M609.7 675.4L613.4 670.5L616.9 675.6M603.5 911.2L607.0 916.2L610.7 911.3M370.0 912.5L290.0 986.2M366.8 912.9L370.0 912.5L369.4 915.7M290.6 983.1L290.0 986.2L293.2 985.9M168.0 1024.0L1023.9 1024.4M172.6 1027.4L168.0 1024.0L172.6 1020.6M1018.1 1029.4L1023.9 1024.4L1018.1 1019.4M938.0 983.6L936.8 1167.5M933.5 990.0L938.0 983.6L942.5 990.0M932.3 1161.1L936.8 1167.5L941.3 1161.1M1119.0 887.0L1117.0 1162.5M1114.7 892.8L1119.0 887.0L1123.3 892.8M1112.7 1156.7L1117.0 1162.5L1121.3 1156.7M982.5 809.5L1105.0 872.0M984.0 812.6L982.5 809.5L985.9 808.9M1101.6 872.6L1105.0 872.0L1103.5 868.9"/>
<path d="M1082.6 894.4L969.5 943.6" stroke-width="2.1"/>
<path d="M1080.2 890.6L1084.8 900.8M1078.2 893.0L1082.6 894.4" stroke-width="1.3"/>
</g>
<g>
<text transform="translate(130.5,102.8) scale(0.950,1)" font-size="17.7" textLength="178.3" lengthAdjust="spacing">WALL HUGGER:3&quot;</text><text transform="translate(255.0,211.2) scale(0.945,1)" font-size="18.2" textLength="54.2" lengthAdjust="spacing">H:32&quot;</text><text transform="translate(581.5,62.7) scale(0.945,1)" font-size="18.0" textLength="72.2" lengthAdjust="spacing">D:62.5&quot;</text><text transform="translate(886.4,141.0) scale(0.945,1)" font-size="18.2" textLength="67.9" lengthAdjust="spacing">SD:39&quot;</text><text transform="translate(898.0,259.3) scale(0.945,1)" font-size="18.2" textLength="86.1" lengthAdjust="spacing">SH:20.5&quot;</text><text transform="translate(567.0,633.3) scale(0.945,1)" font-size="17.0" textLength="72.8" lengthAdjust="spacing">W:82.5&quot;</text><text transform="translate(24.1,921.0) scale(0.945,1)" font-size="17.0" textLength="52.2" lengthAdjust="spacing">H:40&quot;</text><text transform="translate(619.5,810.6) scale(0.945,1)" font-size="17.0" textLength="52.1" lengthAdjust="spacing">H:25&quot;</text><text transform="translate(331.0,969.3) scale(0.945,1)" font-size="17.0" textLength="82.8" lengthAdjust="spacing">SD:20.5&quot;</text><text transform="translate(572.0,1042.6) scale(0.945,1)" font-size="17.0" textLength="86.5" lengthAdjust="spacing">SW:63.5&quot;</text><text transform="translate(945.0,1068.0) scale(0.945,1)" font-size="17.0" textLength="82.5" lengthAdjust="spacing">SH:19.5&quot;</text><text transform="translate(1125.0,1025.0) scale(0.945,1)" font-size="17.0" textLength="69.5" lengthAdjust="spacing">H:24.5&quot;</text><text transform="translate(1003.0,907.0) scale(0.945,1)" font-size="17.0" textLength="56.3" lengthAdjust="spacing">W:10&quot;</text><text transform="translate(1021.5,822) rotate(27) scale(0.93,1)" x="0" y="0" font-size="15.5" textLength="71.5" lengthAdjust="spacing">D:37.5&quot;</text>
</g>
</svg>
</body></html>
